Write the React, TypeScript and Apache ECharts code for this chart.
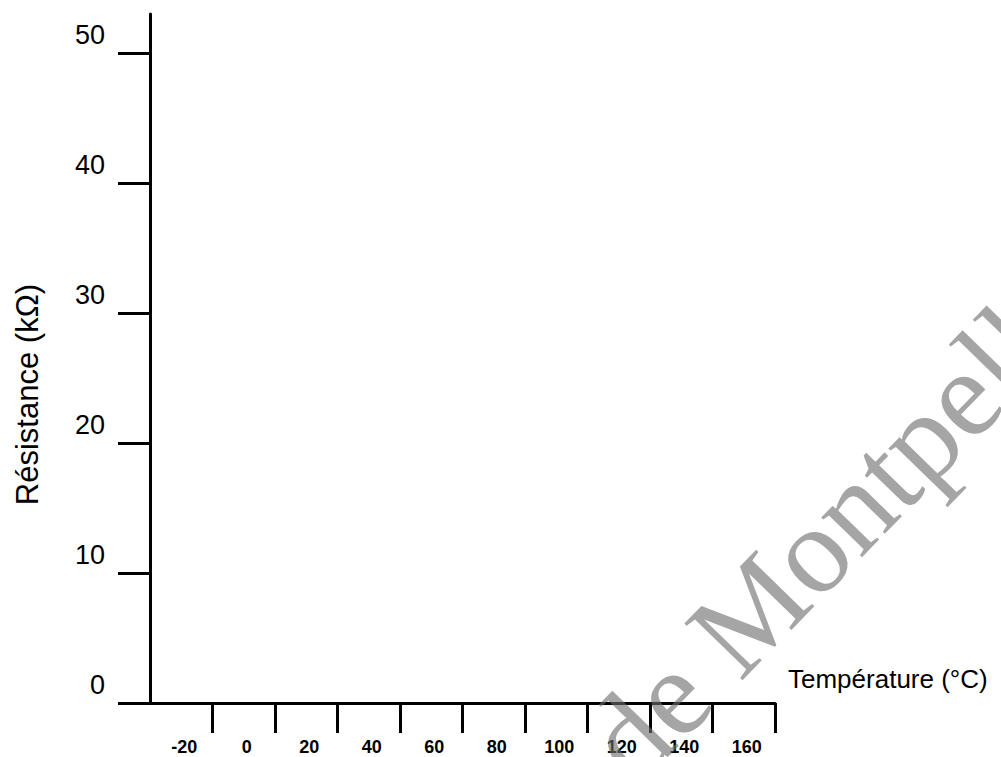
import React, { useEffect, useRef } from "react";
import * as echarts from "echarts";

const temperatureLabels = ["-20", "0", "20", "40", "60", "80", "100", "120", "140", "160"];
const resistanceTicks = [0, 10, 20, 30, 40, 50];
const resistanceMin = 0;
const resistanceMax = 53;
const xAxisName = "Température (°C)";
const yAxisName = "Résistance (kΩ)";
const watermarkText = "de Montpellier";

export default function App() {
  const ref = useRef<HTMLDivElement | null>(null);

  useEffect(() => {
    if (!ref.current) return;
    const chart = echarts.init(ref.current, undefined, { renderer: "svg" });
    const font = "'Liberation Sans', Arial, sans-serif";
    chart.setOption({
      animation: false,
      backgroundColor: "#ffffff",
      grid: { left: 150, right: 226, top: 14, bottom: 54, containLabel: false },
      xAxis: {
        type: "category",
        data: temperatureLabels,
        boundaryGap: true,
        axisLine: { show: true, lineStyle: { color: "#000", width: 3 } },
        axisTick: {
          show: true,
          length: 30,
          interval: (index: number) => index > 0,
          lineStyle: { color: "#000", width: 3 },
        },
        axisLabel: {
          color: "#000",
          fontFamily: font,
          fontSize: 18,
          fontWeight: "bold",
          margin: 35,
          interval: 0,
          padding: [0, 0, 0, 6],
        },
        splitLine: { show: false },
        name: xAxisName,
        nameLocation: "end",
        nameGap: 13,
        nameTextStyle: {
          color: "#000",
          fontFamily: font,
          fontSize: 26,
          align: "left",
          verticalAlign: "bottom",
          padding: [0, 0, 11, 0],
        },
      },
      yAxis: {
        type: "value",
        min: resistanceMin,
        max: resistanceMax,
        interval: 10,
        axisLine: { show: true, lineStyle: { color: "#000", width: 3 } },
        axisTick: {
          show: true,
          length: 32,
          customValues: resistanceTicks,
          lineStyle: { color: "#000", width: 3 },
        },
        axisLabel: {
          color: "#000",
          fontFamily: font,
          fontSize: 27,
          margin: 45,
          customValues: resistanceTicks,
          verticalAlign: "bottom",
          padding: [0, 0, 5, 0],
        },
        splitLine: { show: false },
        name: yAxisName,
        nameLocation: "middle",
        nameGap: 107,
        nameTextStyle: {
          color: "#000",
          fontFamily: font,
          fontSize: 31,
          padding: [0, 72, 0, 0],
        },
      },
      graphic: [
        {
          type: "text",
          x: 607,
          y: 760,
          rotation: 0.8,
          silent: true,
          z: 100,
          style: {
            text: watermarkText,
            fill: "rgba(110,110,110,0.62)",
            font: "124px 'Liberation Serif', 'Times New Roman', serif",
            align: "left",
            verticalAlign: "middle",
          },
        },
      ],
      series: [{ type: "line", data: [] }],
    });
    return () => chart.dispose();
  }, []);

  return (
    <div
      ref={ref}
      style={{ position: "absolute", left: 0, top: 0, width: 1001, height: 757 }}
    />
  );
}
